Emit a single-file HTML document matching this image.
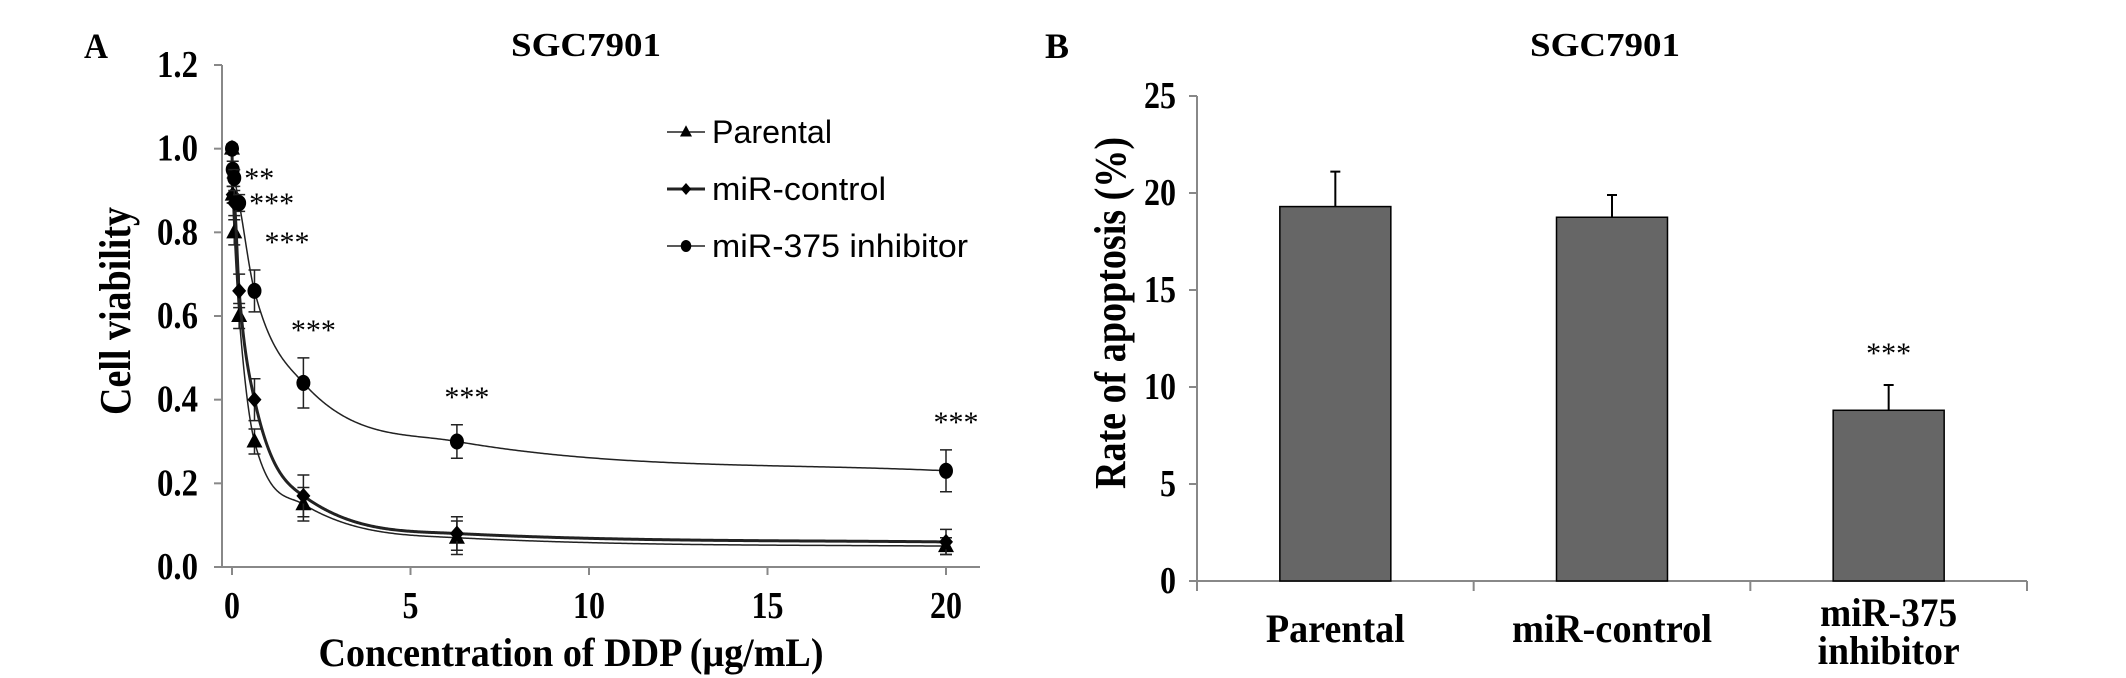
<!DOCTYPE html>
<html><head><meta charset="utf-8">
<style>
html,body{margin:0;padding:0;background:#fff;}
svg{display:block;}
.ser{font-family:"Liberation Serif",serif;font-weight:bold;fill:#000;}
.san{font-family:"Liberation Sans",sans-serif;fill:#000;}
</style></head>
<body>
<svg id="fig" width="2126" height="678" viewBox="0 0 2126 678" xmlns="http://www.w3.org/2000/svg">
  <text class="ser" x="84" y="58" font-size="36" textLength="24" lengthAdjust="spacingAndGlyphs">A</text>
  <text class="ser" x="586" y="56" font-size="34" text-anchor="middle" textLength="150" lengthAdjust="spacingAndGlyphs">SGC7901</text>
  <text class="ser" x="1045" y="58" font-size="36" textLength="24" lengthAdjust="spacingAndGlyphs">B</text>
  <text class="ser" x="1605" y="56" font-size="34" text-anchor="middle" textLength="150" lengthAdjust="spacingAndGlyphs">SGC7901</text>
  <g id="panelA"></g>
  <g id="panelB"></g>
</svg>
<script>
// ---------- Panel A data ----------
const concs = [0, 0.02, 0.063, 0.2, 0.63, 2, 6.3, 20];
const parental = [1.0, 0.89, 0.80, 0.60, 0.30, 0.15, 0.07, 0.05];
const parentalErr = [0.01, 0.02, 0.03, 0.03, 0.03, 0.04, 0.04, 0.02];
const mirControl = [1.0, 0.89, 0.87, 0.66, 0.40, 0.17, 0.08, 0.06];
const mirControlErr = [0.01, 0.02, 0.03, 0.04, 0.05, 0.05, 0.04, 0.03];
const inhibitor = [1.0, 0.95, 0.93, 0.87, 0.66, 0.44, 0.30, 0.23];
const inhibitorErr = [0.01, 0.02, 0.02, 0.02, 0.05, 0.06, 0.04, 0.05];
const starLabels = ["", "", "**", "***", "***", "***", "***", "***"];
const yTicksA = [0, 0.2, 0.4, 0.6, 0.8, 1.0, 1.2];
const xTicksA = [0, 5, 10, 15, 20];
const legendLabels = ["Parental", "miR-control", "miR-375 inhibitor"];

// ---------- Panel B data ----------
const groups = ["Parental", "miR-control", "miR-375 inhibitor"];
const apoptosis = [19.3, 18.75, 8.8];
const apoptosisErr = [1.8, 1.15, 1.3];
const barStars = ["", "", "***"];
const yTicksB = [0, 5, 10, 15, 20, 25];

const NS = "http://www.w3.org/2000/svg";
function mk(tag, attrs, parent, txt) {
  const e = document.createElementNS(NS, tag);
  for (const k in attrs) e.setAttribute(k, attrs[k]);
  if (txt !== undefined) e.textContent = txt;
  parent.appendChild(e);
  return e;
}
function digitLen(s) { let w = 0; for (const ch of s) w += (ch === '.') ? 9 : 16; return w; }

// ===== Panel A =====
const A = document.getElementById('panelA');
const xA = v => 232 + (v / 20) * (946 - 232);
const yA = v => 567 - (v / 1.2) * (567 - 65);

let el = mk('line', {x1: 222, y1: 65, x2: 222, y2: 567, stroke: '#888', 'stroke-width': 2}, A);


el = mk('line', {x1: 222, y1: 567, x2: 980, y2: 567, stroke: '#888', 'stroke-width': 2}, A);



yTicksA.forEach(t => {
  mk('line', {x1: 214, y1: yA(t), x2: 222, y2: yA(t), stroke: '#888', 'stroke-width': 2}, A);
  const s = t.toFixed(1);
  const tx = mk('text', {x: 198, y: yA(t) + 12, 'font-size': 38, 'text-anchor': 'end', class: 'ser', textLength: digitLen(s), lengthAdjust: 'spacingAndGlyphs'}, A, s);
  
  
});
xTicksA.forEach(t => {
  mk('line', {x1: xA(t), y1: 567, x2: xA(t), y2: 575, stroke: '#888', 'stroke-width': 2}, A);
  const s = String(t);
  const tx = mk('text', {x: xA(t), y: 618, 'font-size': 38, 'text-anchor': 'middle', class: 'ser', textLength: digitLen(s), lengthAdjust: 'spacingAndGlyphs'}, A, s);
  
  
});
el = mk('text', {x: 571, y: 666, 'font-size': 40, 'text-anchor': 'middle', class: 'ser', textLength: 505, lengthAdjust: 'spacingAndGlyphs'}, A, 'Concentration of DDP (μg/mL)');


el = mk('text', {x: 0, y: 0, 'font-size': 44, 'text-anchor': 'middle', class: 'ser', textLength: 208, lengthAdjust: 'spacingAndGlyphs', transform: 'translate(130,311) rotate(-90)'}, A, 'Cell viability');



function monotone(xs, ys) {
  const n = xs.length, d = [], m = new Array(n);
  for (let i = 0; i < n - 1; i++) d.push((ys[i + 1] - ys[i]) / (xs[i + 1] - xs[i]));
  m[0] = d[0]; m[n - 1] = d[n - 2];
  for (let i = 1; i < n - 1; i++) m[i] = (d[i - 1] * d[i] <= 0) ? 0 : (d[i - 1] + d[i]) / 2;
  for (let i = 0; i < n - 1; i++) {
    if (d[i] === 0) { m[i] = 0; m[i + 1] = 0; continue; }
    const a = m[i] / d[i], b = m[i + 1] / d[i], s = a * a + b * b;
    if (s > 9) { const t = 3 / Math.sqrt(s); m[i] = t * a * d[i]; m[i + 1] = t * b * d[i]; }
  }
  return x => {
    let i = 0;
    while (i < n - 2 && x > xs[i + 1]) i++;
    const h = xs[i + 1] - xs[i], t = (x - xs[i]) / h;
    const h00 = 2 * t * t * t - 3 * t * t + 1, h10 = t * t * t - 2 * t * t + t, h01 = -2 * t * t * t + 3 * t * t, h11 = t * t * t - t * t;
    return h00 * ys[i] + h10 * h * m[i] + h01 * ys[i + 1] + h11 * h * m[i + 1];
  };
}

const seriesList = [
  {vals: parental, err: parentalErr, marker: 'tri', w: 1.5, name: 'parental'},
  {vals: mirControl, err: mirControlErr, marker: 'dia', w: 3, name: 'mir-control'},
  {vals: inhibitor, err: inhibitorErr, marker: 'dot', w: 1.5, name: 'mir-375-inhibitor'}
];
function marker(kind, cx, cy, parent, s) {
  s = s || 1;
  if (kind === 'tri') return mk('polygon', {points: `${cx},${cy - 9 * s} ${cx - 8 * s},${cy + 6 * s} ${cx + 8 * s},${cy + 6 * s}`, fill: '#000'}, parent);
  if (kind === 'dia') return mk('polygon', {points: `${cx},${cy - 8 * s} ${cx + 7 * s},${cy} ${cx},${cy + 8 * s} ${cx - 7 * s},${cy}`, fill: '#000'}, parent);
  return mk('ellipse', {cx: cx, cy: cy, rx: 7 * s, ry: 8 * s, fill: '#000'}, parent);
}
seriesList.forEach(s => {
  const g = mk('g', {}, A);
  
  
  const f = monotone(concs, s.vals);
  let d = '';
  const steps = 600;
  for (let k = 0; k <= steps; k++) {
    const u = k / steps;
    const x = 20 * Math.pow(u, 2.2);
    d += (k ? 'L' : 'M') + xA(x).toFixed(2) + ',' + yA(f(x)).toFixed(2);
  }
  const p = mk('path', {d: d, fill: 'none', stroke: '#222', 'stroke-width': s.w}, g);
  
  
  concs.forEach((c, i) => {
    const x = xA(c), y = yA(s.vals[i]), e = s.err[i];
    const eb = mk('path', {d: `M${x},${yA(s.vals[i] + e)}L${x},${yA(s.vals[i] - e)}M${x - 6},${yA(s.vals[i] + e)}L${x + 6},${yA(s.vals[i] + e)}M${x - 6},${yA(s.vals[i] - e)}L${x + 6},${yA(s.vals[i] - e)}`, stroke: '#222', 'stroke-width': 1.5, fill: 'none'}, g);
    
    
    const m = marker(s.marker, x, y, g);
    
    
  });
});
concs.forEach((c, i) => {
  if (!starLabels[i]) return;
  const top = yA(inhibitor[i] + inhibitorErr[i]);
  const y = (i < 4) ? yA(inhibitor[i]) + 10 : top - 18;
  const st = mk('text', {x: i < 5 ? xA(c) + 10 : xA(c) + 10, y: y, 'font-size': 30, 'text-anchor': i < 5 ? 'start' : 'middle', class: 'ser', style: 'font-weight:normal'}, A, starLabels[i]);
  
  
});

// legend
const legend = mk('g', {}, A);


const legendLens = [120, 174, 256];
legendLabels.forEach((lab, i) => {
  const y = 132 + i * 57;
  const s = seriesList[i];
  const le = mk('g', {}, legend);
  
  
  mk('line', {x1: 667, y1: y, x2: 705, y2: y, stroke: '#222', 'stroke-width': s.w}, le);
  marker(s.marker, 686, y, le, 0.75);
  mk('text', {x: 712, y: y + 11, 'font-size': 32, class: 'san', textLength: legendLens[i], lengthAdjust: 'spacingAndGlyphs'}, le, lab);
});

// ===== Panel B =====
const B = document.getElementById('panelB');
const x0B = 1197, x1B = 2027, catW = (x1B - x0B) / groups.length;
const yB = v => 581 - (v / 25) * (581 - 96);
el = mk('line', {x1: x0B, y1: 96, x2: x0B, y2: 581, stroke: '#888', 'stroke-width': 2}, B);


el = mk('line', {x1: x0B, y1: 581, x2: x1B, y2: 581, stroke: '#888', 'stroke-width': 2}, B);


yTicksB.forEach(t => {
  mk('line', {x1: x0B - 8, y1: yB(t), x2: x0B, y2: yB(t), stroke: '#888', 'stroke-width': 2}, B);
  const s = String(t);
  const tx = mk('text', {x: 1176, y: yB(t) + 12, 'font-size': 38, 'text-anchor': 'end', class: 'ser', textLength: digitLen(s), lengthAdjust: 'spacingAndGlyphs'}, B, s);
  
  
});
for (let i = 0; i <= groups.length; i++) {
  mk('line', {x1: x0B + i * catW, y1: 581, x2: x0B + i * catW, y2: 591, stroke: '#888', 'stroke-width': 2}, B);
}
el = mk('text', {x: 0, y: 0, 'font-size': 44, 'text-anchor': 'middle', class: 'ser', textLength: 352, lengthAdjust: 'spacingAndGlyphs', transform: 'translate(1125,313) rotate(-90)'}, B, 'Rate of apoptosis (%)');


const barW = 111;
const labelLens = {"Parental": 139, "miR-control": 200, "miR-375": 137, "inhibitor": 142};
groups.forEach((gname, i) => {
  const cx = x0B + (i + 0.5) * catW;
  const v = apoptosis[i], e = apoptosisErr[i];
  const eb = mk('path', {d: `M${cx},${yB(v)}L${cx},${yB(v + e)}M${cx - 5},${yB(v + e)}L${cx + 5},${yB(v + e)}`, stroke: '#000', 'stroke-width': 2, fill: 'none'}, B);
  
  
  const r = mk('rect', {x: cx - barW / 2, y: yB(v), width: barW, height: yB(0) - yB(v), fill: '#666', stroke: '#000', 'stroke-width': 1.5}, B);
  
  
  if (barStars[i]) {
    const st = mk('text', {x: cx, y: yB(v + e) - 22, 'font-size': 30, 'text-anchor': 'middle', class: 'ser', style: 'font-weight:normal'}, B, barStars[i]);
    
    
  }
  const parts = gname === 'miR-375 inhibitor' ? ['miR-375', 'inhibitor'] : [gname];
  parts.forEach((p, k) => {
    const yy = parts.length === 1 ? 642 : 626 + k * 38;
    const tx = mk('text', {x: cx, y: yy, 'font-size': 40, 'text-anchor': 'middle', class: 'ser', textLength: labelLens[p], lengthAdjust: 'spacingAndGlyphs'}, B, p);
    
    
  });
});
</script>
</body></html>
